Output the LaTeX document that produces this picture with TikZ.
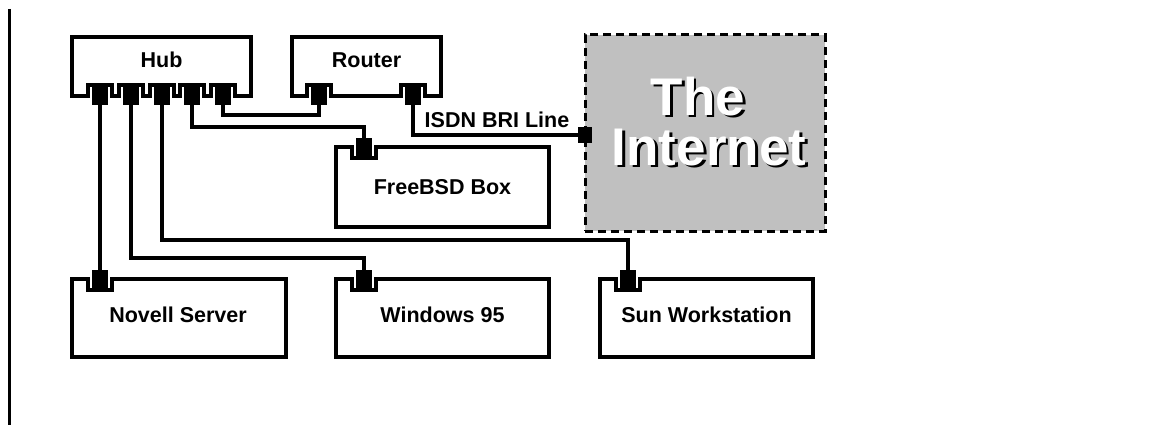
\documentclass[tikz,border=0pt]{standalone}
\usepackage{fontspec}
\setmainfont{Liberation Sans}
\newcommand{\notchup}[2]{%
  \fill[white] (#1-10,#2+2.5) rectangle (#1+10,#2-9);
  \draw[line width=4pt] (#1-12,#2) -- (#1-12,#2-11) -- (#1+12,#2-11) -- (#1+12,#2);}
\newcommand{\notchdown}[2]{%
  \fill[white] (#1-10,#2-2.5) rectangle (#1+10,#2+9);
  \draw[line width=4pt] (#1-12,#2) -- (#1-12,#2+11) -- (#1+12,#2+11) -- (#1+12,#2);}
\begin{document}
\begin{tikzpicture}[x=1pt,y=-1pt,
  box/.style={draw, line width=4pt, fill=white, inner sep=0pt},
  cloudbox/.style={draw, line width=3pt, dash pattern=on 8pt off 5pt, fill=inetgray, inner sep=0pt},
  wire/.style={draw, line width=3.5pt},
  port/.style={fill=black, draw=none, minimum width=15pt, minimum height=17pt, inner sep=0pt},
  lbl/.style={font=\fontsize{21.5}{25}\selectfont\bfseries, inner sep=0pt},
  bigtxt/.style={font=\fontsize{53}{50}\selectfont\bfseries, inner sep=0pt, anchor=base}]
\definecolor{inetgray}{RGB}{192,192,192}
\useasboundingbox (0,0) rectangle (1166,425);
\fill[white] (0,0) rectangle (1166,425);
% left rule
\draw[line width=3pt] (9,9) -- (9,425);
% boxes
\node[box, minimum width=179pt, minimum height=59pt] (hub) at (161.5,66.5) {};
\node[box, minimum width=149pt, minimum height=59pt] (router) at (366.5,66.5) {};
\node[cloudbox, minimum width=240pt, minimum height=196pt] (inet) at (705,133) {};
\node[box, minimum width=213pt, minimum height=80pt] (bsd) at (442.5,187) {};
\node[box, minimum width=214pt, minimum height=78pt] (novell) at (179,318) {};
\node[box, minimum width=213pt, minimum height=78pt] (win) at (442.5,318) {};
\node[box, minimum width=213pt, minimum height=78pt] (sun) at (706.5,318) {};
% labels
\node[lbl] (hubl) at (161.5,60) {Hub};
\node[lbl] (routerl) at (366.5,60) {Router};
\node[lbl] (bsdl) at (442.5,187) {FreeBSD Box};
\node[lbl] (novelll) at (178,315) {Novell Server};
\node[lbl] (winl) at (442.5,315) {Windows 95};
\node[lbl] (sunl) at (706.5,315) {Sun Workstation};
\node[lbl] (isdn) at (497,120) {ISDN BRI Line};
% internet text with shadow
\node[bigtxt, text=black] (thes) at (700.5,117.5) {The};
\node[bigtxt, text=black] (internets) at (711.5,167.5) {Internet};
\node[bigtxt, text=white] (the) at (698,115) {The};
\node[bigtxt, text=white] (internet) at (709,165) {Internet};
% notches
\foreach \px in {100,131,162,192,223} {\notchup{\px}{96}}
\foreach \px in {319,413} {\notchup{\px}{96}}
\notchdown{364}{147}
\foreach \px in {100,364,628} {\notchdown{\px}{279}}
% port squares
\node[port] (h1) at (100,96) {};
\node[port] (h2) at (131,96) {};
\node[port] (h3) at (162,96) {};
\node[port] (h4) at (192,96) {};
\node[port] (h5) at (223,96) {};
\node[port] (rp1) at (319,96) {};
\node[port] (rp2) at (413,96) {};
\node[port] (fp) at (364,147) {};
\node[port] (nvp) at (100,279) {};
\node[port] (wp) at (364,279) {};
\node[port] (sp) at (628,279) {};
\node[port, minimum width=14pt, minimum height=15pt] (ip) at (585,135) {};
% wires
\draw[wire] (h1.center) -- (nvp.center);
\draw[wire] (h2.center) -- ++(0,162) -| (wp.center);
\draw[wire] (h3.center) -- ++(0,144) -| (sp.center);
\draw[wire] (h4.center) -- ++(0,31) -| (fp.center);
\draw[wire] (h5.center) -- ++(0,19) -| (rp1.center);
\draw[wire] (rp2.center) |- (ip.center);
% squares on top of wires
\foreach \n in {h1,h2,h3,h4,h5,rp1,rp2,fp,nvp,wp,sp,ip} {\fill[black] (\n.south west) rectangle (\n.north east);}
\end{tikzpicture}
\end{document}
